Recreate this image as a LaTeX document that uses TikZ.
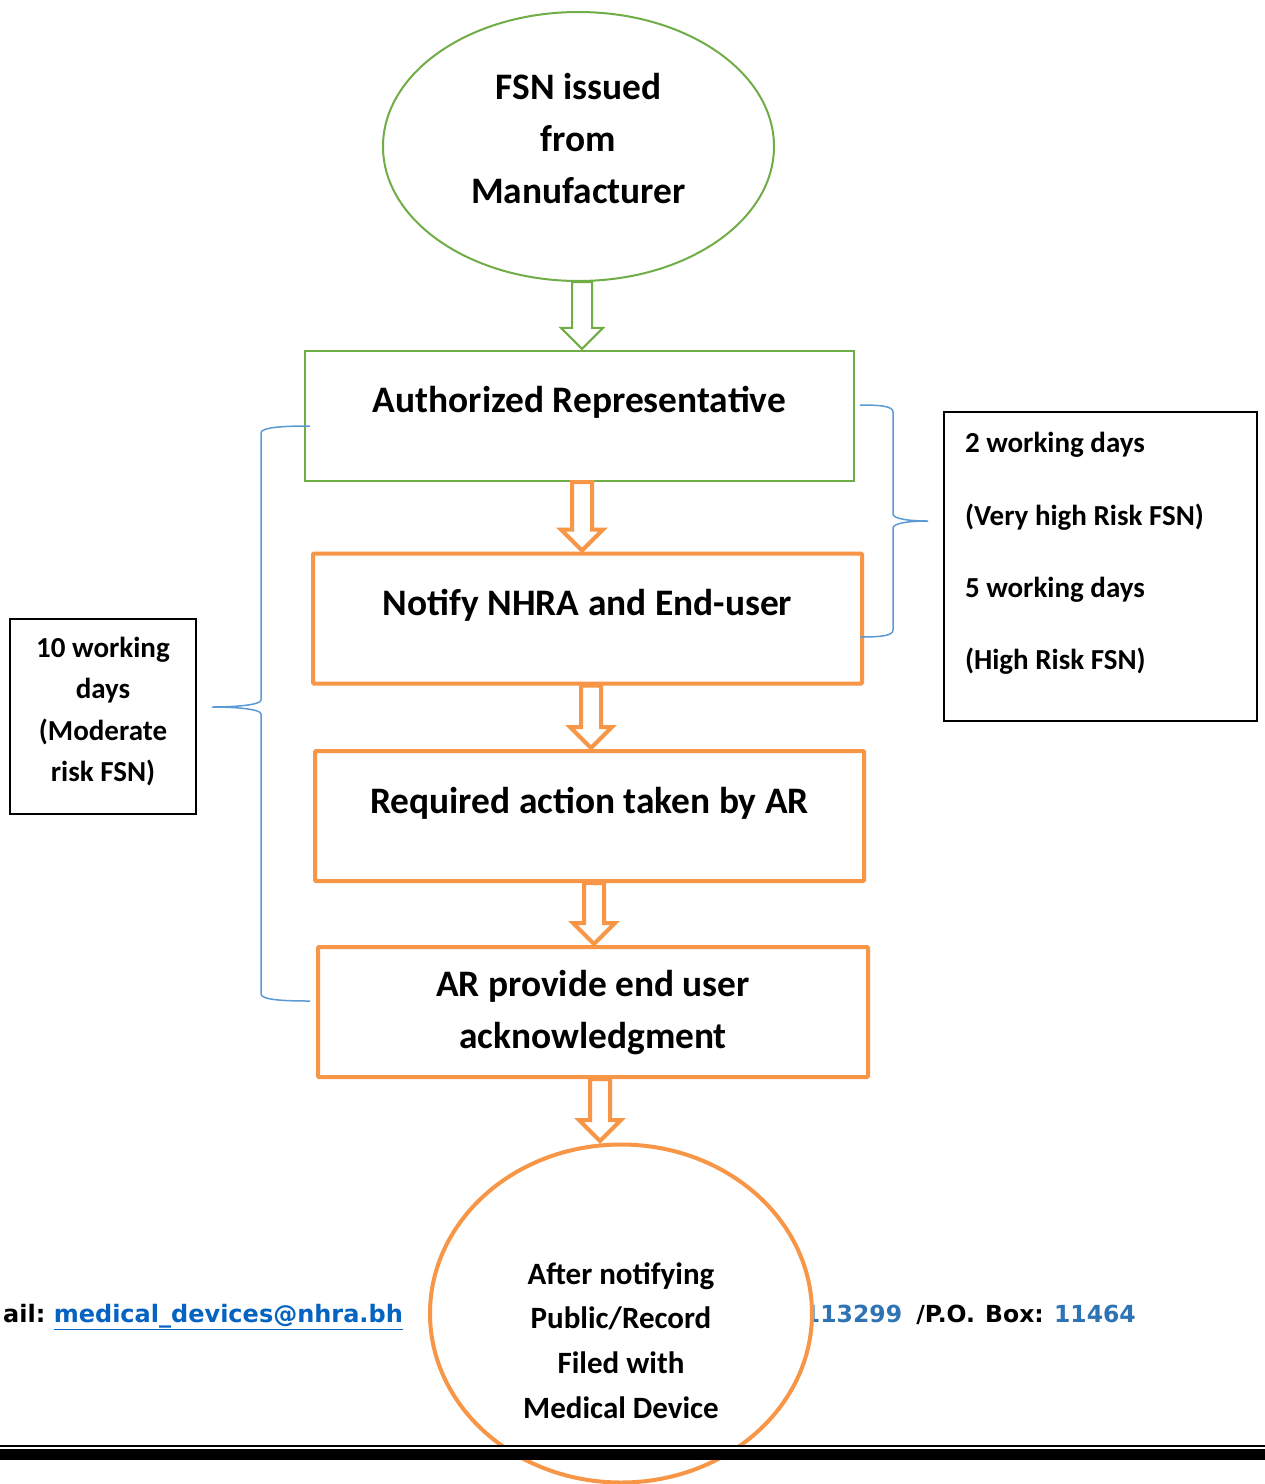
\documentclass[tikz,border=0pt]{standalone}
\usepackage{fontspec}
\setmainfont{Carlito}
\newfontfamily\footfont{DejaVu Sans}
\usetikzlibrary{calc,shapes.geometric}
\definecolor{grn}{HTML}{70AD47}
\definecolor{org}{HTML}{F79646}
\definecolor{brc}{HTML}{5B9BD5}
\definecolor{lnk}{HTML}{0563C1}
\definecolor{num}{HTML}{2E74B5}
\newcommand\hollowarrow[3]{%
  \draw[#3] let \p1=#1, \p2=#2 in
    (\x1-10pt,\y1) -- (\x1+10pt,\y1) -- (\x1+10pt,\y2+21pt) -- (\x1+21pt,\y2+21pt)
    -- (\x1,\y2) -- (\x1-21pt,\y2+21pt) -- (\x1-10pt,\y2+21pt) -- cycle;}
\frenchspacing
\begin{document}
\frenchspacing
\begin{tikzpicture}[x=1pt,y=-1pt,
  bigtext/.style={font=\fontsize{37.4}{52}\selectfont\bfseries\frenchspacing, align=center, inner sep=0pt},
  gbox/.style={draw=grn, line width=2.2pt, minimum width=549pt, minimum height=130pt, inner sep=0pt},
  obox/.style={draw=org, line width=4pt, rounded corners=1pt, minimum width=549pt, minimum height=130pt, inner sep=0pt},
  kbox/.style={draw=black, line width=2pt, inner sep=0pt},
  smalltext/.style={font=\fontsize{29}{41.3}\selectfont\bfseries\frenchspacing, inner sep=0pt},
  garrow/.style={draw=grn, line width=2pt, fill=white},
  oarrow/.style={draw=org, line width=4pt, fill=white},
  bracel/.style={draw=brc, line width=1.5pt},
  foot/.style={font=\footfont\fontsize{23.5}{28}\selectfont\bfseries\frenchspacing, inner sep=0pt}
]
\useasboundingbox (0,0) rectangle (1265,1484);
\fill[white] (0,0) rectangle (1265,1484);

% footer (partly behind the bottom ellipse)
\node[foot, font=\footfont\fontsize{24}{28}\selectfont\bfseries\frenchspacing, anchor=base west] (mail) at (3,1322) {ail: \textcolor{lnk}{\underline{medical\_devices@nhra.bh}}};
\node[foot, anchor=base east] (pobox) at (1136,1322) {\textcolor{num}{17113299}\hspace{6pt} /P.O.\hspace{2pt} Box:\hspace{2pt} \textcolor{num}{11464}};

% top ellipse
\node[ellipse, draw=grn, line width=2pt, minimum width=391pt, minimum height=269pt, inner sep=0pt,
      label={[bigtext, yshift=8pt]center:FSN issued\\from\\Manufacturer}] (e1) at (578.5,146.5) {};

% process boxes
\node[gbox, label={[bigtext, yshift=14pt]center:Authorized Representative}] (b1) at (579.5,416) {};
\node[obox, label={[bigtext, yshift=13.5pt]center:Notify NHRA and End-user}] (b2) at (587.5,618.5) {};
\node[obox, label={[bigtext, yshift=13pt]center:Required action taken by AR}] (b3) at (589.5,816) {};
\node[obox, minimum width=550pt, label={[bigtext, yshift=-1pt]center:AR provide end user\\acknowledgment}] (b4) at (593,1012) {};

% bottom ellipse
\node[ellipse, draw=org, fill=white, line width=4pt, minimum width=382pt, minimum height=338pt, inner sep=0pt,
      label={[font=\fontsize{31}{44.7}\selectfont\bfseries, align=center, inner sep=0pt, yshift=-27pt]center:After notifying\\Public/Record\\Filed with\\Medical Device}] (e2) at (621,1313.5) {};

% block arrows
\hollowarrow{($(e1.south)+(3.5,0)$)}{($(b1.north)+(3.5,-1)$)}{garrow}
\hollowarrow{($(b1.south)+(2.5,0)$)}{($(b2.north)+(2.5,-1)$)}{oarrow}
\hollowarrow{($(b2.south)+(3.5,0)$)}{($(b3.north)+(3.5,-1)$)}{oarrow}
\hollowarrow{($(b3.south)+(4.5,0)$)}{($(b4.north)+(4.5,-1)$)}{oarrow}
\hollowarrow{($(b4.south)+(7,0)$)}{($(e2.north)+(0,-1.5)$)}{oarrow}

% side boxes
\node[kbox, minimum width=313pt, minimum height=309pt,
      label={[smalltext, font=\fontsize{29}{72.3}\selectfont\bfseries\frenchspacing, text width=271pt, align=flush left, yshift=13pt]center:2 working days\\(Very high Risk FSN)\\5 working days\\(High Risk FSN)}] (rbox) at (1100.5,566.5) {};
\node[kbox, minimum width=186pt, minimum height=195pt,
      label={[smalltext, align=center, yshift=5pt]center:10 working\\days\\(Moderate\\risk FSN)}] (lbox) at (103,716.5) {};

% braces
\coordinate (rtip) at (928,521);
\coordinate (ltip) at (212,707);
\draw[bracel] (860,405) .. controls (880,405) and (893,406) .. (893,412) -- (893,514)
   .. controls (893,519) and (910,521) .. (rtip) .. controls (910,521) and (893,523) .. (893,528)
   -- (893,630) .. controls (893,636) and (880,637) .. (860,637);
\draw[bracel] (310,426) .. controls (285,426) and (261,427) .. (261,433) -- (261,700)
   .. controls (261,705) and (235,707) .. (ltip) .. controls (235,707) and (261,709) .. (261,714)
   -- (261,994) .. controls (261,1000) and (285,1001) .. (310,1001);

% bottom rules
\fill[black] (0,1444.5) rectangle (1265,1447);
\fill[white] (0,1447) rectangle (1265,1449);
\fill[black] (0,1449) rectangle (1265,1460);
\end{tikzpicture}
\end{document}
